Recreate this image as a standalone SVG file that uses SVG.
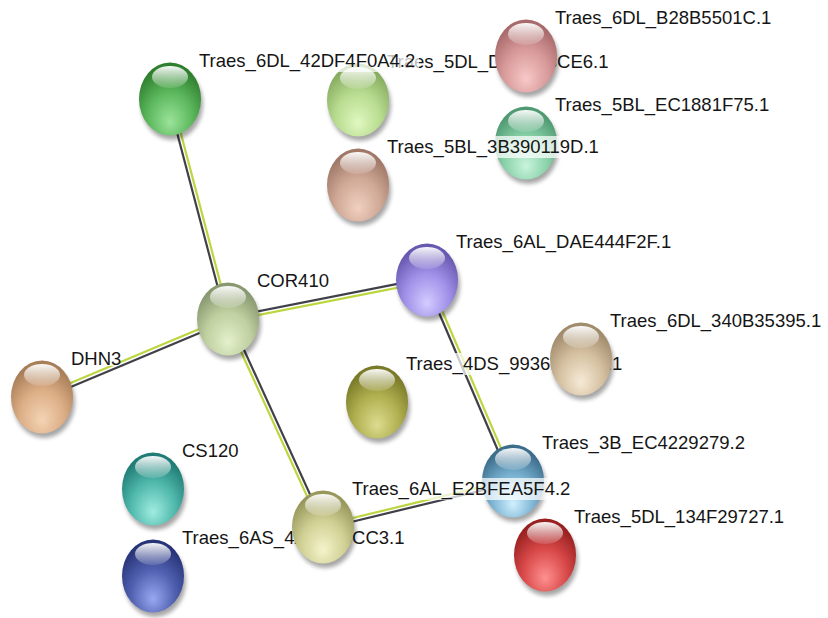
<svg xmlns="http://www.w3.org/2000/svg" width="828" height="618" viewBox="0 0 828 618">
<defs>
<filter id="blur" x="-30%" y="-30%" width="160%" height="160%"><feGaussianBlur stdDeviation="2"/></filter>
<linearGradient id="hl" x1="0" y1="0" x2="0" y2="1"><stop offset="0" stop-color="#fff" stop-opacity="0.95"/><stop offset="1" stop-color="#fff" stop-opacity="0.12"/></linearGradient>
<radialGradient id="g1" cx="50%" cy="72%" r="65%" fx="50%" fy="82%"><stop offset="0" stop-color="#9be39b"/><stop offset="0.55" stop-color="#5cb85c"/><stop offset="1" stop-color="#2f7f2f"/></radialGradient>
<radialGradient id="g2" cx="50%" cy="72%" r="65%" fx="50%" fy="82%"><stop offset="0" stop-color="#e0f8c0"/><stop offset="0.55" stop-color="#b8dc90"/><stop offset="1" stop-color="#88ad60"/></radialGradient>
<radialGradient id="g3" cx="50%" cy="72%" r="65%" fx="50%" fy="82%"><stop offset="0" stop-color="#f0d0c0"/><stop offset="0.55" stop-color="#d0a896"/><stop offset="1" stop-color="#a07868"/></radialGradient>
<radialGradient id="g4" cx="50%" cy="72%" r="65%" fx="50%" fy="82%"><stop offset="0" stop-color="#f8c8c8"/><stop offset="0.55" stop-color="#d89a9a"/><stop offset="1" stop-color="#a86a6a"/></radialGradient>
<radialGradient id="g5" cx="50%" cy="72%" r="65%" fx="50%" fy="82%"><stop offset="0" stop-color="#c8f4dc"/><stop offset="0.55" stop-color="#88d0a8"/><stop offset="1" stop-color="#4f9a72"/></radialGradient>
<radialGradient id="g6" cx="50%" cy="72%" r="65%" fx="50%" fy="82%"><stop offset="0" stop-color="#f4d4b4"/><stop offset="0.55" stop-color="#dcae86"/><stop offset="1" stop-color="#a87e58"/></radialGradient>
<radialGradient id="g7" cx="50%" cy="72%" r="65%" fx="50%" fy="82%"><stop offset="0" stop-color="#e4f0cc"/><stop offset="0.55" stop-color="#c0d0a0"/><stop offset="1" stop-color="#889870"/></radialGradient>
<radialGradient id="g8" cx="50%" cy="72%" r="65%" fx="50%" fy="82%"><stop offset="0" stop-color="#d4ccff"/><stop offset="0.55" stop-color="#a090e8"/><stop offset="1" stop-color="#6858b0"/></radialGradient>
<radialGradient id="g9" cx="50%" cy="72%" r="65%" fx="50%" fy="82%"><stop offset="0" stop-color="#f6ead6"/><stop offset="0.55" stop-color="#d4c0a0"/><stop offset="1" stop-color="#a08c6c"/></radialGradient>
<radialGradient id="g10" cx="50%" cy="72%" r="65%" fx="50%" fy="82%"><stop offset="0" stop-color="#dcdc90"/><stop offset="0.55" stop-color="#b0b050"/><stop offset="1" stop-color="#7a7a28"/></radialGradient>
<radialGradient id="g11" cx="50%" cy="72%" r="65%" fx="50%" fy="82%"><stop offset="0" stop-color="#a0ece0"/><stop offset="0.55" stop-color="#50b8ac"/><stop offset="1" stop-color="#207c74"/></radialGradient>
<radialGradient id="g12" cx="50%" cy="72%" r="65%" fx="50%" fy="82%"><stop offset="0" stop-color="#98a8f0"/><stop offset="0.55" stop-color="#5060b0"/><stop offset="1" stop-color="#283478"/></radialGradient>
<radialGradient id="g13" cx="50%" cy="72%" r="65%" fx="50%" fy="82%"><stop offset="0" stop-color="#f4f4cc"/><stop offset="0.55" stop-color="#d0d094"/><stop offset="1" stop-color="#98985c"/></radialGradient>
<radialGradient id="g14" cx="50%" cy="72%" r="65%" fx="50%" fy="82%"><stop offset="0" stop-color="#d0f0ff"/><stop offset="0.55" stop-color="#78b0d0"/><stop offset="1" stop-color="#3c6e8c"/></radialGradient>
<radialGradient id="g15" cx="50%" cy="72%" r="65%" fx="50%" fy="82%"><stop offset="0" stop-color="#ff9090"/><stop offset="0.55" stop-color="#d84848"/><stop offset="1" stop-color="#982020"/></radialGradient>
</defs>
<style>
.sh{fill:#000;opacity:0.35;filter:url(#blur)}
.hl{fill:url(#hl)}
.bg{fill:#fff;opacity:0.72}
.t{font-family:"Liberation Sans",Arial,sans-serif;font-size:18.5px;fill:#151515}
.dk{stroke:#404048;stroke-width:2.2;fill:none}
.lm{stroke:#bcd640;stroke-width:2.2;fill:none}
</style>
<rect width="828" height="618" fill="#fff"/>
<g id="edges">
<line class="dk" x1="168.3" y1="99.5" x2="226.3" y2="319.5"/><line class="lm" x1="171.7" y1="98.5" x2="229.7" y2="318.5"/>
<line class="dk" x1="227.6" y1="317.2" x2="426.6" y2="278.2"/><line class="lm" x1="228.4" y1="320.8" x2="427.4" y2="281.8"/>
<line class="lm" x1="227.3" y1="317.3" x2="41.3" y2="395.3"/><line class="dk" x1="228.7" y1="320.7" x2="42.7" y2="398.7"/>
<line class="dk" x1="229.6" y1="318.3" x2="324.6" y2="526.3"/><line class="lm" x1="226.4" y1="319.7" x2="321.4" y2="527.7"/>
<line class="dk" x1="425.3" y1="280.7" x2="511.3" y2="481.7"/><line class="lm" x1="428.7" y1="279.3" x2="514.7" y2="480.3"/>
<line class="lm" x1="322.6" y1="525.3" x2="512.6" y2="479.3"/><line class="dk" x1="323.4" y1="528.7" x2="513.4" y2="482.7"/>
</g>
<g id="Traes_6AS_4A1E2BCC3.1" transform="translate(153,576)"><ellipse class="sh" cx="2" cy="5" rx="31" ry="36"/><ellipse rx="31" ry="36.5" fill="url(#g12)"/><ellipse class="hl" cy="-22" rx="18" ry="11"/><rect class="bg" x="26" y="-49" width="226" height="22" rx="3"/><text class="t" x="29" y="-32">Traes_6AS_4A1E2BCC3.1</text></g>
<g id="Traes_3B_EC4229279.2" transform="translate(513,481)"><ellipse class="sh" cx="2" cy="5" rx="31" ry="36"/><ellipse rx="31" ry="36.5" fill="url(#g14)"/><ellipse class="hl" cy="-22" rx="18" ry="11"/><rect class="bg" x="26" y="-49" width="210" height="22" rx="3"/><text class="t" x="29" y="-32">Traes_3B_EC4229279.2</text></g>
<g id="Traes_6AL_E2BFEA5F4.2" transform="translate(323,527)"><ellipse class="sh" cx="2" cy="5" rx="31" ry="36"/><ellipse rx="31" ry="36.5" fill="url(#g13)"/><ellipse class="hl" cy="-22" rx="18" ry="11"/><rect class="bg" x="26" y="-49" width="224" height="22" rx="3"/><text class="t" x="29" y="-32">Traes_6AL_E2BFEA5F4.2</text></g>
<g id="Traes_5DL_134F29727.1" transform="translate(545,555)"><ellipse class="sh" cx="2" cy="5" rx="31" ry="36"/><ellipse rx="31" ry="36.5" fill="url(#g15)"/><ellipse class="hl" cy="-22" rx="18" ry="11"/><rect class="bg" x="26" y="-49" width="217" height="22" rx="3"/><text class="t" x="29" y="-32">Traes_5DL_134F29727.1</text></g>
<g id="Traes_4DS_9936E1F4B.1" transform="translate(377,402)"><ellipse class="sh" cx="2" cy="5" rx="31" ry="36"/><ellipse rx="31" ry="36.5" fill="url(#g10)"/><ellipse class="hl" cy="-22" rx="18" ry="11"/><rect class="bg" x="26" y="-49" width="224" height="22" rx="3"/><text class="t" x="29" y="-32">Traes_4DS_9936E1F4B.1</text></g>
<g id="Traes_6DL_340B35395.1" transform="translate(581,359)"><ellipse class="sh" cx="2" cy="5" rx="31" ry="36"/><ellipse rx="31" ry="36.5" fill="url(#g9)"/><ellipse class="hl" cy="-22" rx="18" ry="11"/><rect class="bg" x="26" y="-49" width="220" height="22" rx="3"/><text class="t" x="29" y="-32">Traes_6DL_340B35395.1</text></g>
<g id="Traes_6AL_DAE444F2F.1" transform="translate(427,280)"><ellipse class="sh" cx="2" cy="5" rx="31" ry="36"/><ellipse rx="31" ry="36.5" fill="url(#g8)"/><ellipse class="hl" cy="-22" rx="18" ry="11"/><rect class="bg" x="26" y="-49" width="224" height="22" rx="3"/><text class="t" x="29" y="-32">Traes_6AL_DAE444F2F.1</text></g>
<g id="COR410" transform="translate(228,319)"><ellipse class="sh" cx="2" cy="5" rx="31" ry="36"/><ellipse rx="31" ry="36.5" fill="url(#g7)"/><ellipse class="hl" cy="-22" rx="18" ry="11"/><rect class="bg" x="26" y="-49" width="78" height="22" rx="3"/><text class="t" x="29" y="-32">COR410</text></g>
<g id="DHN3" transform="translate(42,397)"><ellipse class="sh" cx="2" cy="5" rx="31" ry="36"/><ellipse rx="31" ry="36.5" fill="url(#g6)"/><ellipse class="hl" cy="-22" rx="18" ry="11"/><rect class="bg" x="26" y="-48" width="52" height="17" rx="3"/><text class="t" x="29" y="-32">DHN3</text></g>
<g id="CS120" transform="translate(153,489)"><ellipse class="sh" cx="2" cy="5" rx="31" ry="36"/><ellipse rx="31" ry="36.5" fill="url(#g11)"/><ellipse class="hl" cy="-22" rx="18" ry="11"/><rect class="bg" x="26" y="-49" width="63" height="22" rx="3"/><text class="t" x="29" y="-32">CS120</text></g>
<g id="Traes_5DL_D1A5B3CE6.1" transform="translate(358,100)"><ellipse class="sh" cx="2" cy="5" rx="31" ry="36"/><ellipse rx="31" ry="36.5" fill="url(#g2)"/><ellipse class="hl" cy="-22" rx="18" ry="11"/><rect class="bg" x="26" y="-49" width="224" height="22" rx="3"/><text class="t" x="29" y="-32">Traes_5DL_D1A5B3CE6.1</text></g>
<g id="Traes_6DL_B28B5501C.1" transform="translate(526,56)"><ellipse class="sh" cx="2" cy="5" rx="31" ry="36"/><ellipse rx="31" ry="36.5" fill="url(#g4)"/><ellipse class="hl" cy="-22" rx="18" ry="11"/><rect class="bg" x="26" y="-49" width="223" height="22" rx="3"/><text class="t" x="29" y="-32">Traes_6DL_B28B5501C.1</text></g>
<g id="Traes_6DL_42DF4F0A4.2" transform="translate(170,99)"><ellipse class="sh" cx="2" cy="5" rx="31" ry="36"/><ellipse rx="31" ry="36.5" fill="url(#g1)"/><ellipse class="hl" cy="-22" rx="18" ry="11"/><rect class="bg" x="26" y="-49" width="223" height="22" rx="3"/><text class="t" x="29" y="-32">Traes_6DL_42DF4F0A4.2</text></g>
<g id="Traes_5BL_EC1881F75.1" transform="translate(526,143)"><ellipse class="sh" cx="2" cy="5" rx="31" ry="36"/><ellipse rx="31" ry="36.5" fill="url(#g5)"/><ellipse class="hl" cy="-22" rx="18" ry="11"/><rect class="bg" x="26" y="-49" width="220" height="22" rx="3"/><text class="t" x="29" y="-32">Traes_5BL_EC1881F75.1</text></g>
<g id="Traes_5BL_3B390119D.1" transform="translate(358,185)"><ellipse class="sh" cx="2" cy="5" rx="31" ry="36"/><ellipse rx="31" ry="36.5" fill="url(#g3)"/><ellipse class="hl" cy="-22" rx="18" ry="11"/><rect class="bg" x="26" y="-49" width="221" height="22" rx="3"/><text class="t" x="29" y="-32">Traes_5BL_3B390119D.1</text></g>
</svg>
